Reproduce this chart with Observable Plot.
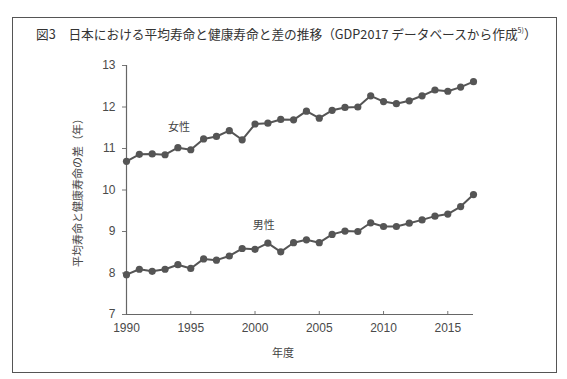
<!DOCTYPE html>
<html><head><meta charset="utf-8">
<script src="https://cdn.jsdelivr.net/npm/d3@7"></script>
<script src="https://cdn.jsdelivr.net/npm/@observablehq/plot@0.6"></script>
<style>
body{margin:0;background:#fff;}
#wrap{position:relative;width:567px;height:379px;overflow:hidden;font-family:"Liberation Sans","Noto Sans CJK JP",sans-serif;background:#fff}
#frame{position:absolute;left:12px;top:17px;width:545px;height:356px;border:1.5px solid #555;box-sizing:border-box}
#title{position:absolute;left:36px;top:24px;font-size:12.7px;color:#333;white-space:nowrap;font-family:"Noto Sans CJK JP","Liberation Sans",sans-serif;}
#title sup{font-size:7px;vertical-align:6px}
#chart{position:absolute;left:0;top:45px}
#xlabel{position:absolute;left:233px;width:100px;top:344px;text-align:center;font-size:11px;color:#444;font-family:"Noto Sans CJK JP",sans-serif}
</style>
</head><body>
<div id="wrap">
<div id="frame"></div>
<div id="title">図3　日本における平均寿命と健康寿命と差の推移（GDP2017 データベースから作成<sup>5)</sup>）</div>
<div id="chart"></div>
<div id="xlabel">年度</div>
</div>
<script>
const years = [1990,1991,1992,1993,1994,1995,1996,1997,1998,1999,2000,2001,2002,2003,2004,2005,2006,2007,2008,2009,2010,2011,2012,2013,2014,2015,2016,2017];
const female = [10.69,10.86,10.87,10.85,11.02,10.97,11.23,11.29,11.43,11.21,11.59,11.61,11.70,11.69,11.90,11.73,11.92,11.99,12.00,12.27,12.13,12.08,12.15,12.27,12.41,12.38,12.48,12.61];
const male = [7.96,8.09,8.04,8.09,8.20,8.11,8.34,8.31,8.41,8.59,8.57,8.72,8.51,8.73,8.80,8.73,8.93,9.01,9.00,9.21,9.12,9.12,9.20,9.28,9.37,9.42,9.60,9.89];
const seriesNames = ["女性","男性"];
const xTicks = [1990,1995,2000,2005,2010,2015];
const yTicks = [7,8,9,10,11,12,13];
const yLabel = "平均寿命と健康寿命の差（年）";

const data = [];
years.forEach((y,i)=>{
  data.push({year:y, value:female[i], sex:seriesNames[0]});
  data.push({year:y, value:male[i], sex:seriesNames[1]});
});
const fLabel = [{year:years[4], value:female[4], text:seriesNames[0]}];
const mLabel = [{year:years[11], value:male[11], text:seriesNames[1]}];
const cjk = "'Noto Sans CJK JP', sans-serif";

const chart = Plot.plot({
  width:567, height:320,
  marginTop:20, marginBottom:51, marginLeft:126, marginRight:94,
  x:{domain:[1990,2017]},
  y:{domain:[7,13]},
  style:{fontFamily:"'Liberation Sans','Noto Sans CJK JP',sans-serif", fontSize:"12px", color:"#4a4a4a", background:"transparent"},
  marks:[
    Plot.axisY({ticks:yTicks, tickSize:4, tickPadding:7, tickFormat:d=>String(d), stroke:"#777", label:null}),
    Plot.axisY({ticks:[], label:yLabel, labelAnchor:"center", labelOffset:52, labelArrow:"none", fontSize:11, fontFamily:cjk}),
    Plot.axisX({ticks:xTicks, tickSize:0, tickPadding:9, tickFormat:d=>String(d), label:null}),
    Plot.axisX({ticks:xTicks, tickSize:3, dy:-3, text:null, stroke:"#777", label:null}),
    Plot.ruleX([1990], {stroke:"#666", strokeWidth:1.2}),
    Plot.ruleY([7], {stroke:"#666", strokeWidth:1.2}),
    Plot.line(data, {x:"year", y:"value", z:"sex", stroke:"#555", strokeWidth:2}),
    Plot.dot(data, {x:"year", y:"value", r:3.6, fill:"#555"}),
    Plot.text(fLabel, {x:"year", y:"value", text:"text", dx:1, dy:-20, fontSize:11, fill:"#444", fontFamily:cjk}),
    Plot.text(mLabel, {x:"year", y:"value", text:"text", dx:-4, dy:-18, fontSize:11, fill:"#444", fontFamily:cjk})
  ]
});
document.getElementById("chart").appendChild(chart);
</script>
</body></html>
